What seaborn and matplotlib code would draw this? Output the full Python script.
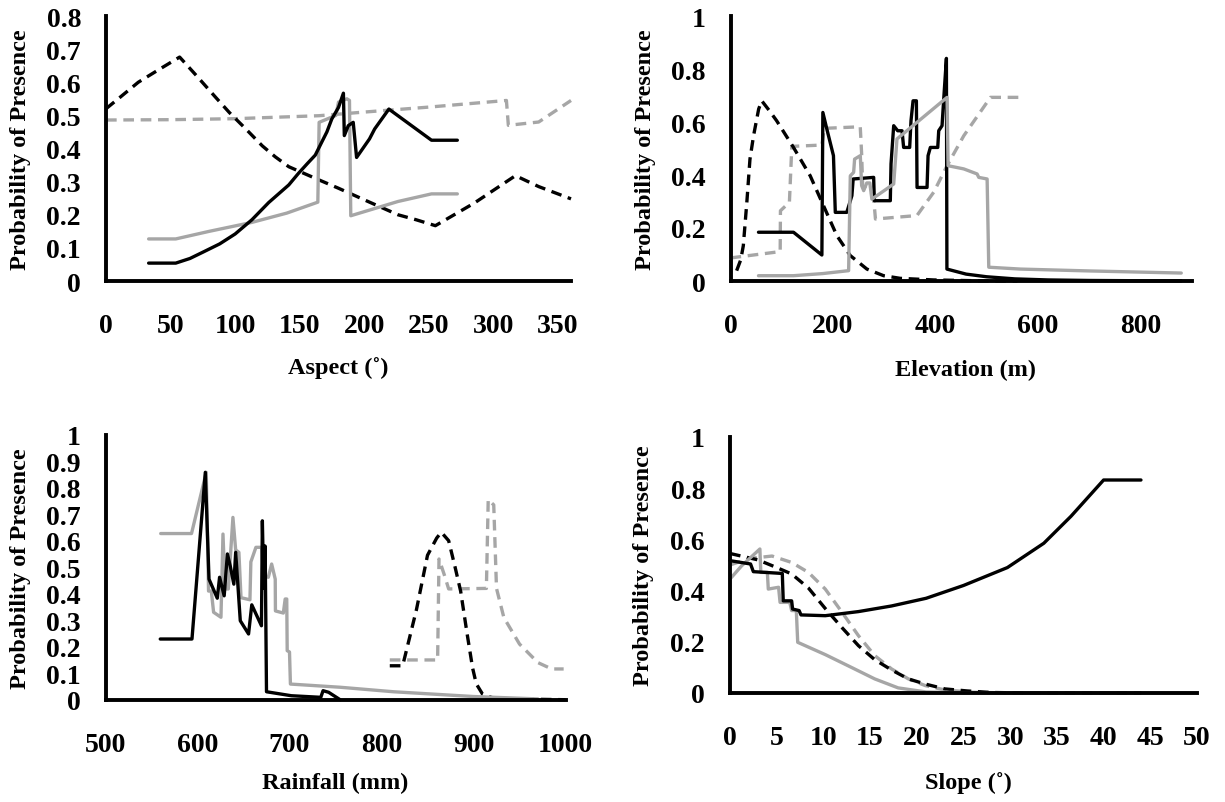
import matplotlib
matplotlib.use("Agg")
import matplotlib.pyplot as plt
import seaborn as sns

# ---------------- data ----------------
# Panel 1: Aspect
asp_bs_x = [33, 54, 65, 75, 88, 100, 113, 126, 141.5, 149, 156, 162, 167, 171, 174.8, 180, 183.8, 184.5, 187.6, 191.4, 194, 204, 208, 219, 252, 272]
asp_bs_y = [0.054, 0.054, 0.068, 0.087, 0.112, 0.142, 0.185, 0.237, 0.29, 0.325, 0.355, 0.38, 0.419, 0.45, 0.489, 0.524, 0.567, 0.439, 0.469, 0.479, 0.373, 0.429, 0.459, 0.519, 0.425, 0.425]
asp_gs_x = [33, 54, 80, 113, 140, 164, 165, 178, 180, 186.5, 188.5, 189.5, 226, 252, 272]
asp_gs_y = [0.127, 0.127, 0.15, 0.177, 0.205, 0.238, 0.479, 0.5, 0.54, 0.55, 0.545, 0.197, 0.24, 0.263, 0.263]
asp_bd_x = [0, 11, 25, 40, 57, 70, 85, 95.4, 108, 121, 131, 141.5, 162, 180, 200, 226, 240, 255, 285, 317, 335, 360]
asp_bd_y = [0.52, 0.555, 0.60, 0.636, 0.676, 0.62, 0.554, 0.509, 0.46, 0.408, 0.375, 0.345, 0.31, 0.28, 0.245, 0.2, 0.185, 0.167, 0.235, 0.318, 0.285, 0.248]
asp_gd_x = [0, 50, 100, 165, 200, 250, 310, 311.5, 335, 360]
asp_gd_y = [0.486, 0.487, 0.49, 0.499, 0.51, 0.525, 0.545, 0.47, 0.48, 0.545]

# Panel 2: Elevation
ele_bs_x = [54.6, 123, 178.4, 180.3, 188, 201, 204.6, 227, 237, 239.5, 279.5, 280.8, 312, 313.4, 318.6, 326.4, 334.9, 338, 349.8, 352.4, 356.4, 362.9, 364.2, 383.7, 385.7, 390.2, 404.6, 406.5, 413, 416.3, 421.5, 422.5, 460, 500, 555, 620, 700, 800, 880]
ele_bs_y = [0.184, 0.184, 0.098, 0.636, 0.574, 0.473, 0.259, 0.259, 0.322, 0.385, 0.391, 0.303, 0.303, 0.442, 0.586, 0.567, 0.567, 0.504, 0.504, 0.605, 0.68, 0.68, 0.353, 0.353, 0.473, 0.504, 0.504, 0.567, 0.586, 0.687, 0.84, 0.045, 0.026, 0.016, 0.008, 0.004, 0.002, 0.001, 0.0005]
ele_gs_x = [54.6, 123, 180, 230.6, 233.9, 240.4, 242.3, 253.4, 256, 260, 266, 272, 276, 318.6, 325, 422.8, 424.8, 455.4, 481.4, 484.7, 501, 504.2, 566, 700, 880]
ele_gs_y = [0.02, 0.02, 0.028, 0.039, 0.397, 0.41, 0.46, 0.473, 0.36, 0.341, 0.37, 0.37, 0.309, 0.366, 0.536, 0.693, 0.435, 0.423, 0.404, 0.391, 0.385, 0.052, 0.045, 0.038, 0.03]
ele_bd_x = [12, 20, 25, 32, 38, 45, 55, 61, 75, 90, 123, 155.6, 181.6, 207.7, 233.8, 266.3, 298.9, 331.5, 396.6, 480, 560]
ele_bd_y = [0.039, 0.08, 0.133, 0.3, 0.46, 0.548, 0.649, 0.68, 0.645, 0.605, 0.504, 0.397, 0.284, 0.171, 0.096, 0.045, 0.02, 0.01, 0.004, 0.001, 0.0]
ele_gd_x = [0, 97, 97.5, 115, 119.7, 178.4, 183, 253.3, 256, 258, 276, 280, 283, 364, 396.7, 422.8, 455.4, 507.5, 566]
ele_gd_y = [0.087, 0.111, 0.265, 0.297, 0.508, 0.513, 0.576, 0.582, 0.48, 0.36, 0.33, 0.3, 0.234, 0.247, 0.335, 0.435, 0.548, 0.693, 0.693]

# Panel 3: Rainfall
rain_bs_x = [559.5, 594, 608.5, 612.5, 621.5, 624, 629, 632.5, 635.5, 639.5, 641.5, 646.5, 655.5, 659, 669.5, 670.5, 672, 673.5, 675, 702, 734, 736.5, 742.5, 755]
rain_bs_y = [0.229, 0.229, 0.858, 0.455, 0.383, 0.462, 0.392, 0.55, 0.506, 0.436, 0.556, 0.298, 0.248, 0.358, 0.279, 0.675, 0.42, 0.58, 0.03, 0.015, 0.009, 0.034, 0.028, 0.0]
rain_gs_x = [560, 593.5, 609.5, 612, 615, 617.5, 625.5, 627.7, 630, 633.5, 638.5, 641.5, 645, 647.3, 657, 658, 663.5, 669.7, 671.8, 677, 680.6, 684.5, 684.7, 693.3, 695.3, 697, 697.5, 700, 701, 755, 813, 900, 970]
rain_gs_y = [0.627, 0.627, 0.858, 0.41, 0.41, 0.33, 0.311, 0.625, 0.418, 0.418, 0.688, 0.565, 0.556, 0.385, 0.377, 0.52, 0.575, 0.575, 0.468, 0.462, 0.512, 0.455, 0.335, 0.327, 0.38, 0.38, 0.185, 0.18, 0.059, 0.047, 0.03, 0.012, 0.003]
rain_bd_x = [809, 823, 838, 850, 860, 865, 873, 880, 886, 893, 899, 903, 910, 920, 940, 1000]
rain_bd_y = [0.128, 0.128, 0.34, 0.545, 0.61, 0.632, 0.6, 0.5, 0.41, 0.25, 0.12, 0.06, 0.02, 0.008, 0.003, 0.0]
rain_gd_x = [809, 861, 862.5, 868, 873, 914, 916, 922, 925, 933, 950, 970, 985, 998]
rain_gd_y = [0.15, 0.15, 0.531, 0.474, 0.418, 0.42, 0.755, 0.735, 0.42, 0.31, 0.21, 0.14, 0.116, 0.116]

# Panel 4: Slope
slope_bs_x = [0, 2.2, 2.5, 5.6, 5.7, 6.6, 6.7, 7.4, 7.6, 10.2, 13.75, 17.3, 21, 25, 29.7, 33.6, 36.5, 40, 44]
slope_bs_y = [0.517, 0.504, 0.474, 0.467, 0.36, 0.36, 0.328, 0.322, 0.305, 0.302, 0.318, 0.34, 0.37, 0.42, 0.49, 0.585, 0.69, 0.832, 0.832]
slope_gs_x = [0, 1.25, 3.2, 3.3, 4.0, 4.1, 5.2, 5.36, 6.4, 6.6, 7.1, 7.25, 10.2, 13, 15.5, 18, 21, 25, 30, 44]
slope_gs_y = [0.445, 0.497, 0.5625, 0.471, 0.471, 0.406, 0.413, 0.354, 0.354, 0.322, 0.322, 0.198, 0.15, 0.1, 0.055, 0.02, 0.004, 0.001, 0.0, 0.0]
slope_bd_x = [0, 3, 5, 6.6, 8.4, 10.2, 12, 13.75, 15.5, 17.3, 19.1, 20.9, 23, 25.4, 28, 32, 44]
slope_bd_y = [0.545, 0.52, 0.49, 0.465, 0.41, 0.33, 0.255, 0.185, 0.13, 0.09, 0.055, 0.035, 0.016, 0.008, 0.002, 0.0, 0.0]
slope_gd_x = [0, 2, 4.5, 6.6, 8.4, 10.2, 12, 13.75, 15.5, 17.3, 19.1, 20.9, 23, 26, 30]
slope_gd_y = [0.5, 0.525, 0.535, 0.51, 0.471, 0.406, 0.315, 0.224, 0.146, 0.094, 0.055, 0.029, 0.012, 0.003, 0.0]

# ticks / labels
asp_xticks = [0, 50, 100, 150, 200, 250, 300, 350]
asp_yticks = [0, 0.1, 0.2, 0.3, 0.4, 0.5, 0.6, 0.7, 0.8]
asp_ylabels = ["0", "0.1", "0.2", "0.3", "0.4", "0.5", "0.6", "0.7", "0.8"]
ele_xticks = [0, 200, 400, 600, 800]
ele_yticks = [0, 0.2, 0.4, 0.6, 0.8, 1.0]
ele_ylabels = ["0", "0.2", "0.4", "0.6", "0.8", "1"]
rain_xticks = [500, 600, 700, 800, 900, 1000]
rain_yticks = [0, 0.1, 0.2, 0.3, 0.4, 0.5, 0.6, 0.7, 0.8, 0.9, 1.0]
rain_ylabels = ["0", "0.1", "0.2", "0.3", "0.4", "0.5", "0.6", "0.7", "0.8", "0.9", "1"]
slope_xticks = [0, 5, 10, 15, 20, 25, 30, 35, 40, 45, 50]
slope_yticks = [0, 0.2, 0.4, 0.6, 0.8, 1.0]
slope_ylabels = ["0", "0.2", "0.4", "0.6", "0.8", "1"]

YLABEL = "Probability of Presence"

# ---------------- style ----------------
sns.set_theme(style="white")
plt.rcParams["font.family"] = ["Liberation Serif", "DejaVu Serif"]
plt.rcParams["font.weight"] = "bold"
plt.rcParams["axes.labelweight"] = "bold"

BLACK = "#000000"
GRAY = "#A6A6A6"
LW = 2.4
DASH = (0, (3.2, 2.0))

W, H = 1225, 803
fig = plt.figure(figsize=(W / 100, H / 100), dpi=100)


def make_axes(left, top, width, height):
    return fig.add_axes([left / W, 1 - (top + height) / H, width / W, height / H])


def draw(ax, series):
    for xs, ys, color, ls in series:
        sns.lineplot(x=xs, y=ys, ax=ax, color=color, linewidth=LW, linestyle=ls,
                     sort=False, estimator=None, clip_on=False)


def style(ax, xlim, xticks, ylim, yticks, ylabels, xlabel, xlab_y, xlab_x=0.5):
    ax.set_xlim(*xlim)
    ax.set_ylim(*ylim)
    ax.set_xticks(xticks)
    ax.set_xticklabels([str(t) for t in xticks])
    ax.set_yticks(yticks)
    ax.set_yticklabels(ylabels)
    for s in ["top", "right"]:
        ax.spines[s].set_visible(False)
    for s in ["left", "bottom"]:
        ax.spines[s].set_linewidth(2.8)
        ax.spines[s].set_color("black")
    ax.tick_params(axis="both", direction="in", length=6, width=2.2, color="black",
                   labelsize=20, labelcolor="black")
    ax.tick_params(axis="x", pad=23)
    ax.tick_params(axis="y", pad=18)
    for lab in ax.get_xticklabels() + ax.get_yticklabels():
        lab.set_fontweight("bold")
    ax.set_xlabel(xlabel, fontsize=17.5, fontweight="bold", color="black")
    ax.set_ylabel(YLABEL, fontsize=17.5, fontweight="bold", color="black")
    ax.xaxis.set_label_coords(xlab_x, xlab_y)
    ax.yaxis.set_label_coords(-0.162, 0.5)
    ax.grid(False)
    ax.set_facecolor("white")


ax1 = make_axes(106, 17, 465, 265)
draw(ax1, [(asp_gd_x, asp_gd_y, GRAY, DASH), (asp_bd_x, asp_bd_y, BLACK, DASH),
           (asp_gs_x, asp_gs_y, GRAY, "-"), (asp_bs_x, asp_bs_y, BLACK, "-")])
style(ax1, (0, 360), asp_xticks, (0, 0.8), asp_yticks, asp_ylabels, "Aspect (˚)", -0.283)

ax2 = make_axes(730.5, 17, 461, 265)
draw(ax2, [(ele_gd_x, ele_gd_y, GRAY, DASH), (ele_bd_x, ele_bd_y, BLACK, DASH),
           (ele_bs_x, ele_bs_y, BLACK, "-"), (ele_gs_x, ele_gs_y, GRAY, "-")])
style(ax2, (0, 900), ele_xticks, (0, 1.0), ele_yticks, ele_ylabels, "Elevation (m)", -0.294, 0.51)

ax3 = make_axes(105.5, 435.7, 460, 265)
draw(ax3, [(rain_gd_x, rain_gd_y, GRAY, DASH), (rain_bd_x, rain_bd_y, BLACK, DASH),
           (rain_gs_x, rain_gs_y, GRAY, "-"), (rain_bs_x, rain_bs_y, BLACK, "-")])
style(ax3, (500, 1000), rain_xticks, (0, 1.0), rain_yticks, rain_ylabels, "Rainfall (mm)", -0.273)

ax4 = make_axes(730, 438, 467, 256)
draw(ax4, [(slope_gd_x, slope_gd_y, GRAY, DASH), (slope_bd_x, slope_bd_y, BLACK, DASH),
           (slope_gs_x, slope_gs_y, GRAY, "-"), (slope_bs_x, slope_bs_y, BLACK, "-")])
style(ax4, (0, 50), slope_xticks, (0, 1.0), slope_yticks, slope_ylabels, "Slope (˚)", -0.303, 0.51)

fig.savefig("out.png", dpi=100, facecolor="white")
